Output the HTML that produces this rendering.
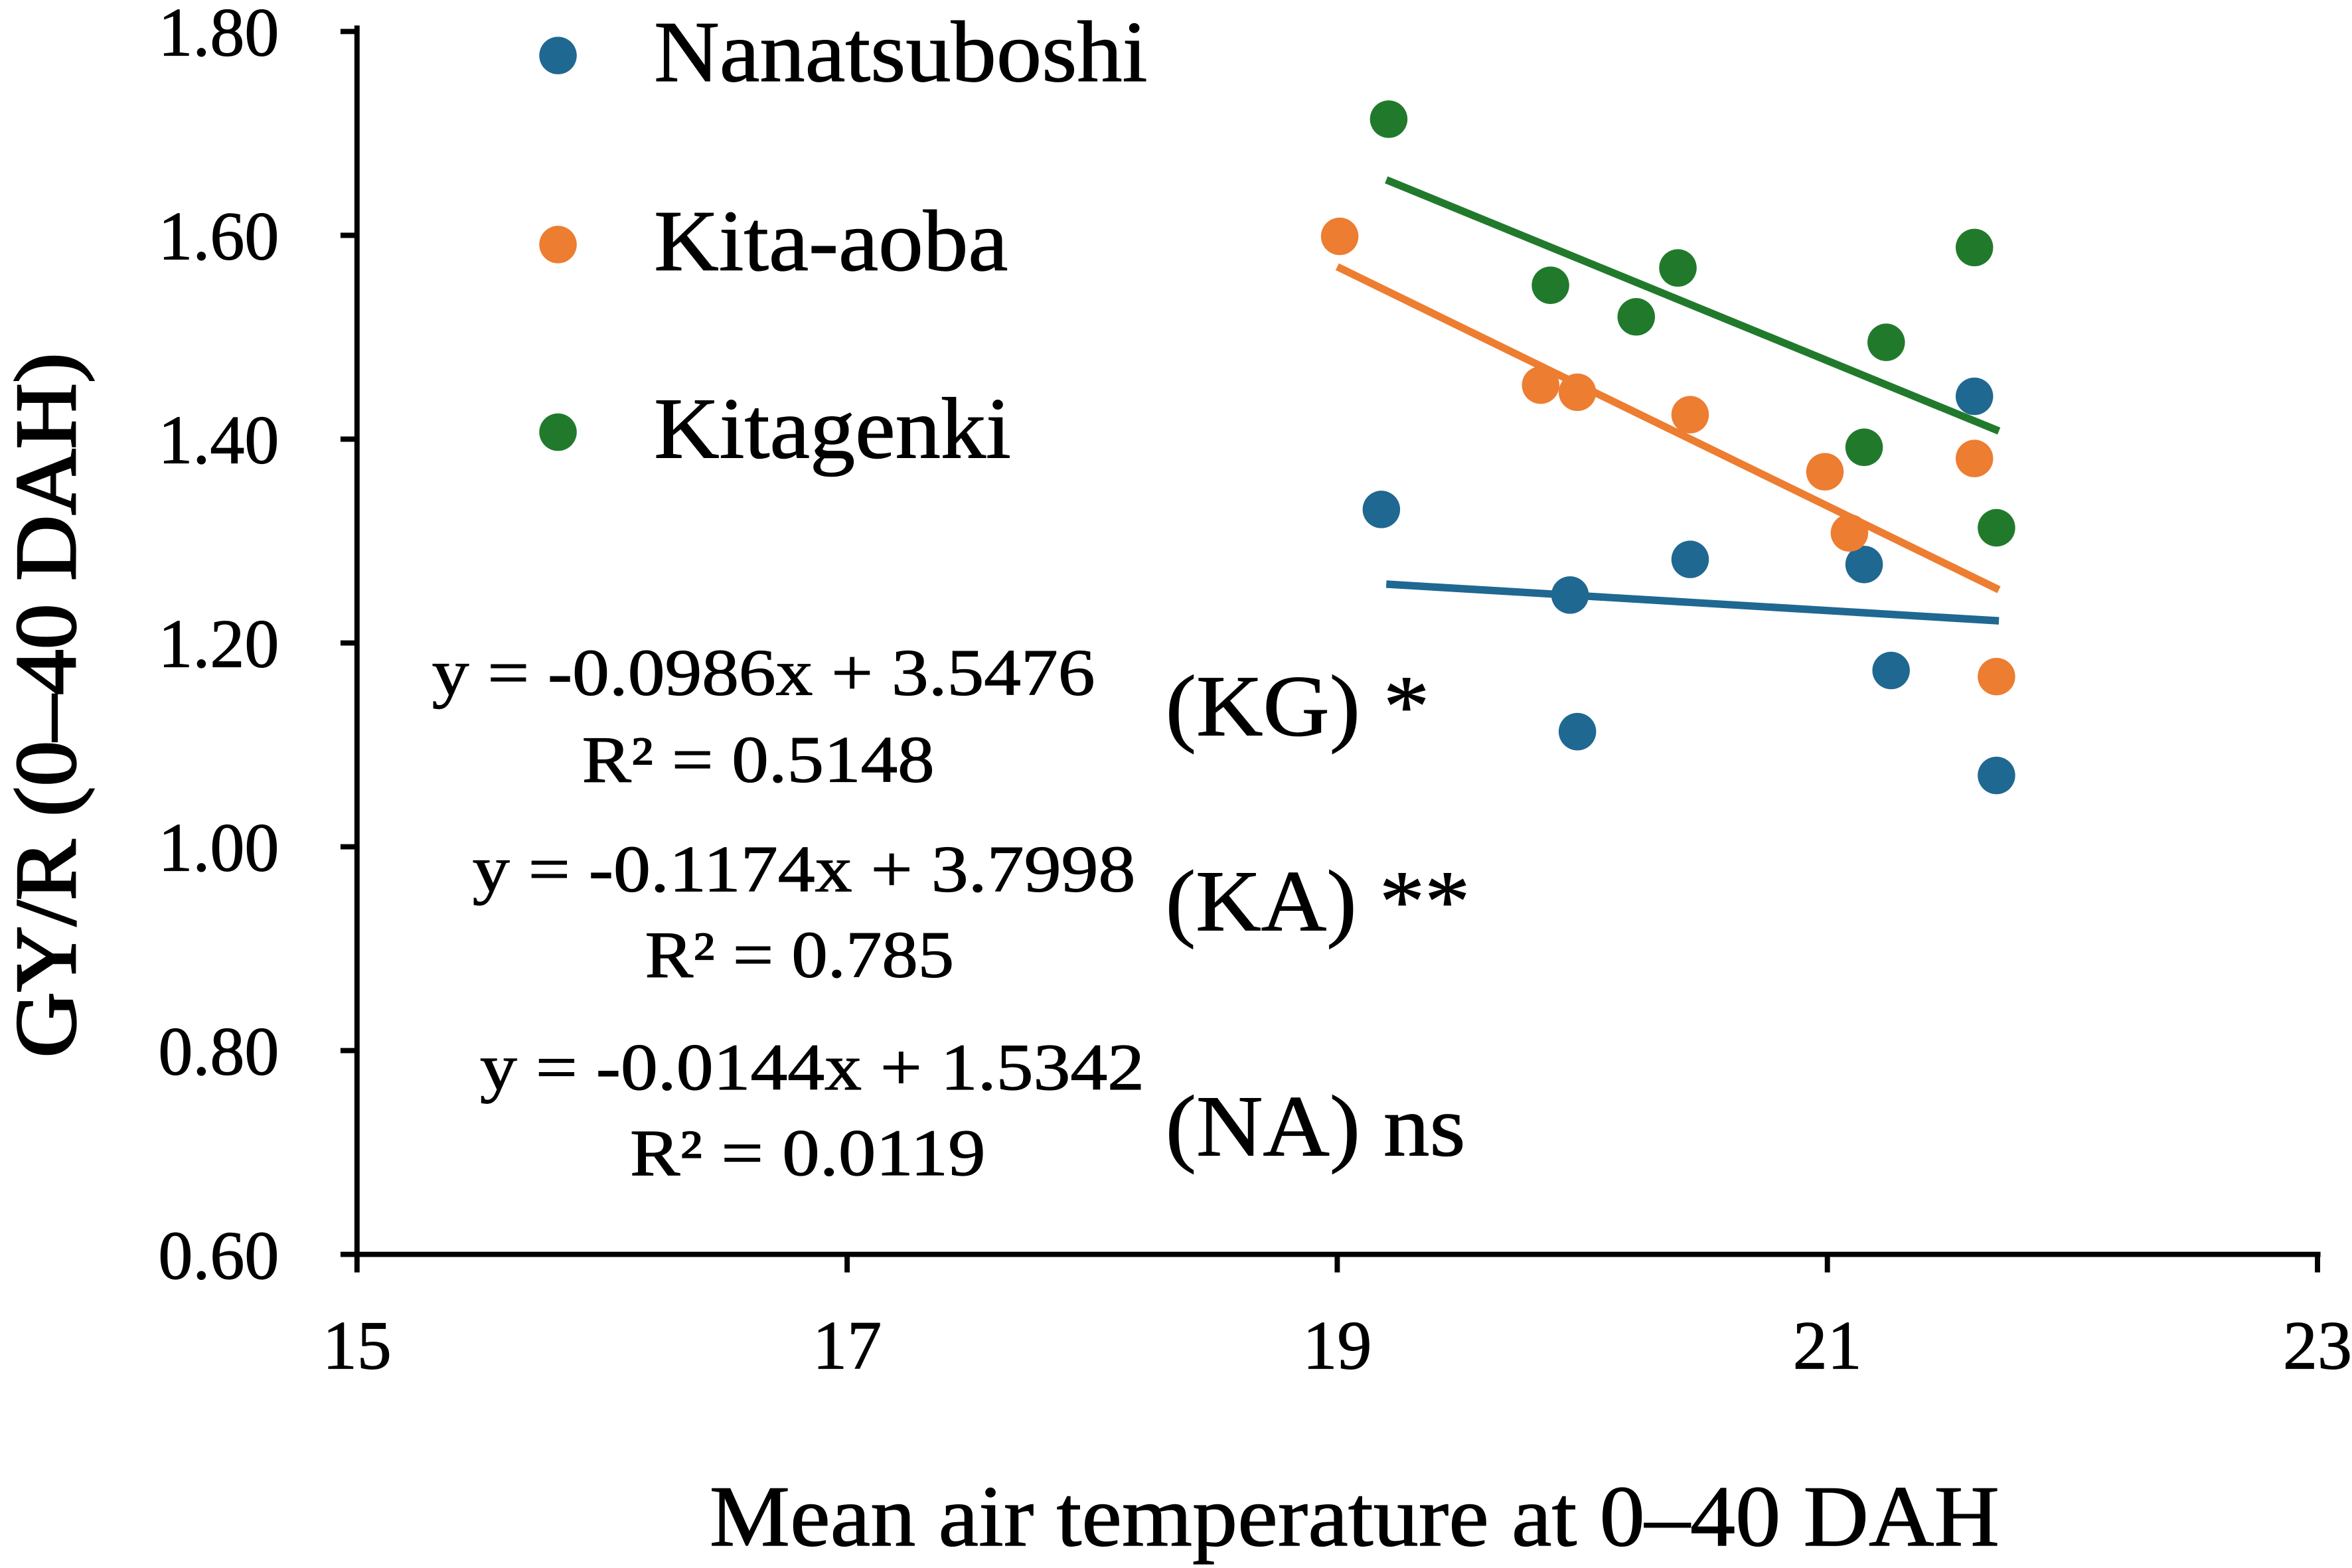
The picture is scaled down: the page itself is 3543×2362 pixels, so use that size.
<!DOCTYPE html>
<html><head><meta charset="utf-8"><style>
html,body{margin:0;padding:0;background:#fff;overflow:hidden}
svg{display:block}
text{font-family:"Liberation Serif",serif;fill:#000;stroke:#000;stroke-width:0.5}
</style></head><body>
<svg id="chart" width="3543" height="2362" viewBox="0 0 1568 1045" preserveAspectRatio="none" xmlns="http://www.w3.org/2000/svg">
<g id="axes"></g>
<g id="marks"></g>
<g>
 <circle cx="372" cy="37" r="12.5" fill="#1f6891"/>
 <text x="436" y="54" font-size="58" textLength="329" lengthAdjust="spacingAndGlyphs">Nanatsuboshi</text>
 <circle cx="372" cy="163" r="12.5" fill="#ed7d31"/>
 <text x="436" y="180" font-size="58" textLength="236" lengthAdjust="spacingAndGlyphs">Kita-aoba</text>
 <circle cx="372" cy="288" r="12.5" fill="#217a2c"/>
 <text x="436" y="305" font-size="58" textLength="238" lengthAdjust="spacingAndGlyphs">Kitagenki</text>
</g>
<g>
 <text x="288" y="463" font-size="44" textLength="442" lengthAdjust="spacingAndGlyphs">y = -0.0986x + 3.5476</text>
 <text x="388" y="521" font-size="44" textLength="235" lengthAdjust="spacingAndGlyphs">R² = 0.5148</text>
 <text x="315" y="594" font-size="44" textLength="442" lengthAdjust="spacingAndGlyphs">y = -0.1174x + 3.7998</text>
 <text x="430" y="651" font-size="44" textLength="206" lengthAdjust="spacingAndGlyphs">R² = 0.785</text>
 <text x="320" y="726" font-size="44" textLength="443" lengthAdjust="spacingAndGlyphs">y = -0.0144x + 1.5342</text>
 <text x="420" y="783" font-size="44" textLength="237" lengthAdjust="spacingAndGlyphs">R² = 0.0119</text>
 <text x="777" y="490" font-size="58" textLength="176" lengthAdjust="spacingAndGlyphs">(KG) *</text>
 <text x="777" y="620" font-size="58" textLength="203" lengthAdjust="spacingAndGlyphs">(KA) **</text>
 <text x="777" y="770" font-size="58" textLength="200" lengthAdjust="spacingAndGlyphs">(NA) ns</text>
</g>
<text x="473" y="1030" font-size="58" textLength="860" lengthAdjust="spacingAndGlyphs">Mean air temperature at 0–40 DAH</text>
<text transform="translate(50,705) rotate(-90)" font-size="58" style="stroke-width:1.2" textLength="470" lengthAdjust="spacingAndGlyphs">GY/R (0–40 DAH)</text>
</svg>
<script>
const xTicks=[15,17,19,21,23];
const yTicks=[0.6,0.8,1.0,1.2,1.4,1.6,1.8];
const yTickLabels=["0.60","0.80","1.00","1.20","1.40","1.60","1.80"];
const naX=[19.18,19.95,19.98,20.44,21.15,21.26,21.60,21.69];
const naY=[1.331,1.247,1.113,1.282,1.277,1.173,1.442,1.070];
const kaX=[19.01,19.83,19.98,20.44,20.99,21.09,21.60,21.69];
const kaY=[1.599,1.453,1.446,1.424,1.368,1.308,1.381,1.167];
const kgX=[19.21,19.87,20.22,20.39,21.15,21.24,21.60,21.69];
const kgY=[1.714,1.551,1.520,1.568,1.392,1.495,1.588,1.313];
const slopes=[-0.0144,-0.1174,-0.0986];
const intercepts=[1.5342,3.7998,3.5476];
const fitStart=[19.2,19.0,19.2];
const fitEnd=[21.7,21.7,21.7];
const seriesNames=["nanatsuboshi","kita-aoba","kitagenki"];
const colors=["#1f6891","#ed7d31","#217a2c"];
const NS="http://www.w3.org/2000/svg";
const sx=v=>238+(v-15)*(1307/8);
const sy=v=>836-(v-0.6)*(815/1.2);
function mk(tag,attrs,parent){const e=document.createElementNS(NS,tag);for(const k in attrs)e.setAttribute(k,attrs[k]);parent.appendChild(e);return e;}
const axes=document.getElementById('axes'),marks=document.getElementById('marks');
let a=mk('line',{x1:238,y1:sy(1.8)-4,x2:238,y2:837,stroke:'#000','stroke-width':3.5},axes);


a=mk('line',{x1:237,y1:836,x2:1547,y2:836,stroke:'#000','stroke-width':3.5},axes);


xTicks.forEach(t=>{
 const l=mk('line',{x1:sx(t),y1:836,x2:sx(t),y2:848,stroke:'#000','stroke-width':3.5},axes);
 
 
 const tx=mk('text',{x:sx(t),y:912,'font-size':46,'text-anchor':'middle'},axes);tx.textContent=t;
 
 
});
yTicks.forEach((t,i)=>{
 const l=mk('line',{x1:227,y1:sy(t),x2:238,y2:sy(t),stroke:'#000','stroke-width':3.5},axes);
 
 
 const tx=mk('text',{x:186,y:sy(t)+16,'font-size':46,'text-anchor':'end'},axes);tx.textContent=yTickLabels[i];
 
 
});
const xs=[naX,kaX,kgX],ys=[naY,kaY,kgY];
for(let s=0;s<3;s++){
 const x0=fitStart[s],x1=fitEnd[s];
 const ln=mk('line',{x1:sx(x0),y1:sy(slopes[s]*x0+intercepts[s]),x2:sx(x1),y2:sy(slopes[s]*x1+intercepts[s]),stroke:colors[s],'stroke-width':5},marks);
 
 
}
for(let s=0;s<3;s++){
 xs[s].forEach((x,i)=>{
  const c=mk('circle',{cx:sx(x),cy:sy(ys[s][i]),r:12.5,fill:colors[s]},marks);
  
  
 });
}
</script>
</body></html>
